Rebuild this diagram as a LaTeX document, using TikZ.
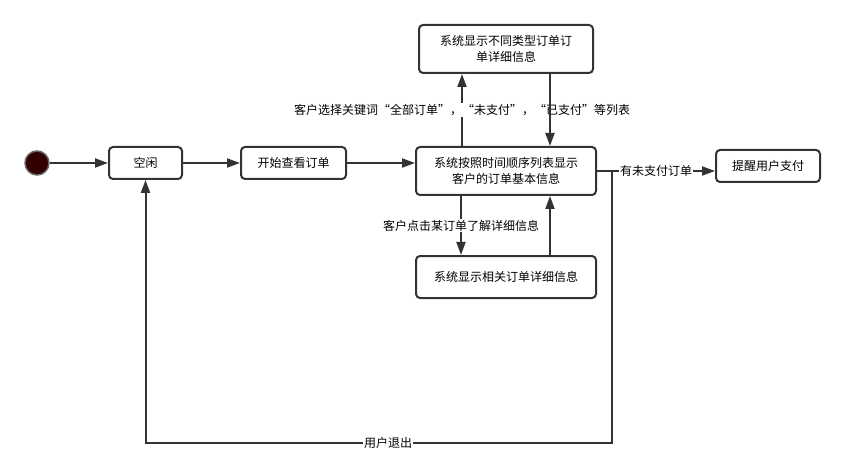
\documentclass[tikz,border=0pt]{standalone}
\usepackage{fontspec}
\setmainfont{Noto Sans CJK SC}
\usepackage{tikz}
\usetikzlibrary{arrows.meta}

\definecolor{linegray}{HTML}{333333}
\definecolor{startred}{HTML}{330000}

\tikzset{
    state/.style={draw=linegray, line width=2pt, rounded corners=4pt,
        align=center, inner sep=2pt, font=\fontsize{12}{16}\selectfont},
    trans/.style={draw=linegray, line width=2pt, -{Triangle[length=13pt,width=9pt]}},
    lbl/.style={fill=white, inner sep=1pt, font=\fontsize{12}{14}\selectfont}
}

\begin{document}
\begin{tikzpicture}[x=1pt, y=-1pt]
    \useasboundingbox (0,0) rectangle (845,470);

    % --- 1. 起始点 ---
    \def\rS{12}
    \node[circle, draw=gray!80!black, line width=1.5pt, fill=startred,
          minimum size=2*\rS pt, inner sep=0pt] (start) at (37,163) {};

    % --- 2. 各状态 ---
    \node[state, minimum width=73pt, minimum height=32pt] (idle) at (145.5,163) {空闲};
    \node[state, minimum width=105pt, minimum height=32pt] (view) at (293.5,163) {开始查看订单};
    \node[state, minimum width=180pt, minimum height=48pt] (list) at (506,171)
        {系统按照时间顺序列表显示\\客户的订单基本信息};
    \node[state, minimum width=174pt, minimum height=48pt] (types) at (506,49)
        {系统显示不同类型订单订\\单详细信息};
    \node[state, minimum width=180pt, minimum height=42pt] (detail) at (506,277)
        {系统显示相关订单详细信息};
    \node[state, minimum width=104pt, minimum height=32pt] (remind) at (768,166) {提醒用户支付};

    % --- 3. 主线 ---
    \draw[trans] (start) -- (idle);
    \draw[trans] (idle) -- (view);
    \draw[trans] (view.east) -- (view.east -| list.west);

    % --- 4. 订单列表 <-> 分类 ---
    \draw[trans] ([xshift=-44pt]list.north) -- ([xshift=-44pt]list.north |- types.south)
        node[lbl, pos=0.5] {客户选择关键词“全部订单”，“未支付”，“已支付”等列表};
    \draw[trans] ([xshift=44pt]types.south) -- ([xshift=44pt]types.south |- list.north);

    % --- 5. 订单列表 <-> 详细 ---
    \draw[trans] ([xshift=-45pt]list.south) -- ([xshift=-45pt]list.south |- detail.north)
        node[lbl, pos=0.5] {客户点击某订单了解详细信息};
    \draw[trans] ([xshift=44pt]detail.north) -- ([xshift=44pt]detail.north |- list.south);

    % --- 6. 未支付提醒 ---
    \draw[trans] (list.east) -- (list.east -| remind.west)
        node[lbl, pos=0.5] {有未支付订单};

    % --- 7. 用户退出 ---
    \coordinate (exitR) at (612,443);
    \draw[trans] (list.east) -| (exitR) -| (idle.south)
        node[lbl, pos=0.24] {用户退出};
\end{tikzpicture}
\end{document}
